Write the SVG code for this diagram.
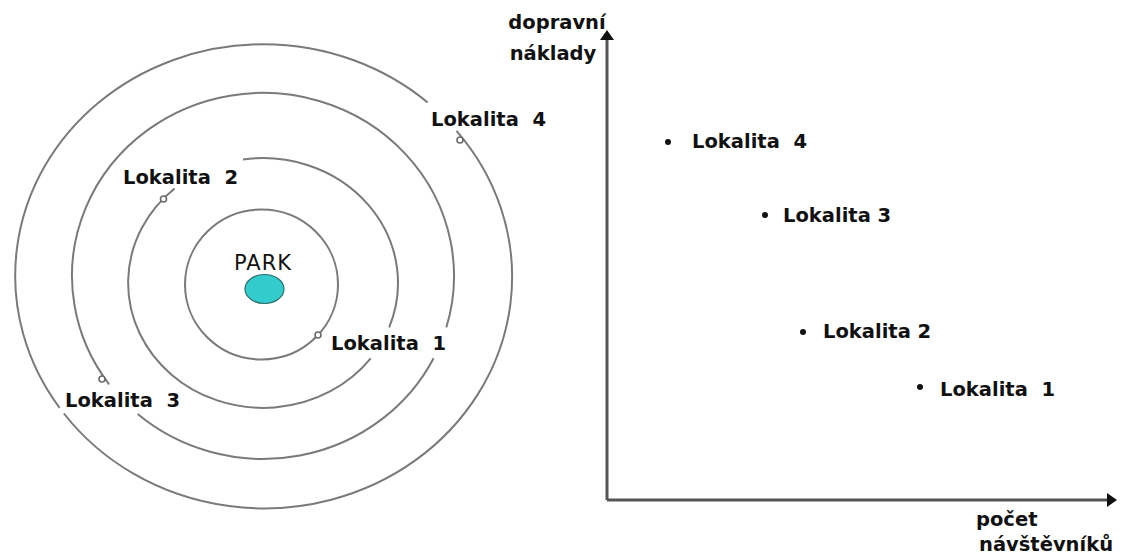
<svg xmlns="http://www.w3.org/2000/svg" width="1124" height="555" viewBox="0 0 1124 555">
  <style>
    .ring { fill: none; stroke: #7a7a7a; stroke-width: 2; }
    .site { fill: #ffffff; stroke: #6a6a6a; stroke-width: 1.6; }
    .lbl { font-family: "DejaVu Sans", Verdana, sans-serif; font-weight: bold; font-size: 19.5px; fill: #111; }
    .park { font-family: "DejaVu Sans", Verdana, sans-serif; font-size: 21px; fill: #111; letter-spacing: 1px; }
    .axis { stroke: #555; stroke-width: 3; fill: none; }
    .dot { fill: #111; }
  </style>
  <defs>
    <marker id="arrow" viewBox="0 0 10 14" refX="1" refY="7" markerWidth="10" markerHeight="14" markerUnits="userSpaceOnUse" orient="auto">
      <path d="M0,0 L10,7 L0,14 Z" fill="#111"/>
    </marker>
  </defs>
  <rect width="1124" height="555" fill="#ffffff"/>

  <!-- concentric distance zones around the park -->
  <g id="zones">
    <ellipse class="ring" cx="261.5" cy="284.5" rx="76.5" ry="75"/>
    <path class="ring" d="M370.7,358.4 A135,125 0 1 1 174.6,188.5"/>
    <path class="ring" d="M243,159.4 A135,125 0 0 1 389.2,327.4"/>
    <path class="ring" d="M433.6,358.2 A191,183 0 0 1 137.7,414.1"/>
    <path class="ring" d="M109.1,384.3 A191,183 0 1 1 446.3,327.4"/>
    <path class="ring" d="M456.5,130.8 A248,231.5 0 1 1 63.9,413.5"/>
    <path class="ring" d="M59.6,407.9 A248,231.5 0 0 1 427.6,102.4"/>
  </g>

  <g id="park">
    <ellipse cx="264.5" cy="289" rx="19.5" ry="14.5" fill="#33cccc" stroke="#2a6e6e" stroke-width="1.2"/>
    <text class="park" x="263" y="270" text-anchor="middle">PARK</text>
  </g>

  <g id="site1-map">
    <circle class="site" cx="318" cy="335" r="3"/>
    <text class="lbl" x="331" y="350">Lokalita <tspan dx="7">1</tspan></text>
  </g>
  <g id="site2-map">
    <circle class="site" cx="163.5" cy="199" r="3"/>
    <text class="lbl" x="123" y="184">Lokalita <tspan dx="7">2</tspan></text>
  </g>
  <g id="site3-map">
    <circle class="site" cx="102" cy="379" r="3"/>
    <text class="lbl" x="65" y="407">Lokalita <tspan dx="7">3</tspan></text>
  </g>
  <g id="site4-map">
    <circle class="site" cx="460" cy="140" r="3"/>
    <text class="lbl" x="431" y="126">Lokalita <tspan dx="7">4</tspan></text>
  </g>

  <!-- cost vs. visitors chart -->
  <g id="axes">
    <path class="axis" d="M607,500 L607,39" marker-end="url(#arrow)"/>
    <path class="axis" d="M607,500 L1108,500" marker-end="url(#arrow)"/>
  </g>
  <g id="axis-y-label">
    <text class="lbl" x="557" y="29" text-anchor="middle">dopravní</text>
    <text class="lbl" x="553" y="60" text-anchor="middle">náklady</text>
  </g>
  <g id="axis-x-label">
    <text class="lbl" x="976" y="526">počet</text>
    <text class="lbl" x="979" y="551">návštěvníků</text>
  </g>

  <g id="site4-chart">
    <circle class="dot" cx="668" cy="142" r="3"/>
    <text class="lbl" x="692" y="148">Lokalita <tspan dx="7">4</tspan></text>
  </g>
  <g id="site3-chart">
    <circle class="dot" cx="765" cy="215" r="3"/>
    <text class="lbl" x="783" y="222">Lokalita 3</text>
  </g>
  <g id="site2-chart">
    <circle class="dot" cx="803" cy="332" r="3"/>
    <text class="lbl" x="823" y="338">Lokalita 2</text>
  </g>
  <g id="site1-chart">
    <circle class="dot" cx="920" cy="387" r="3"/>
    <text class="lbl" x="940" y="396">Lokalita <tspan dx="7">1</tspan></text>
  </g>
</svg>
